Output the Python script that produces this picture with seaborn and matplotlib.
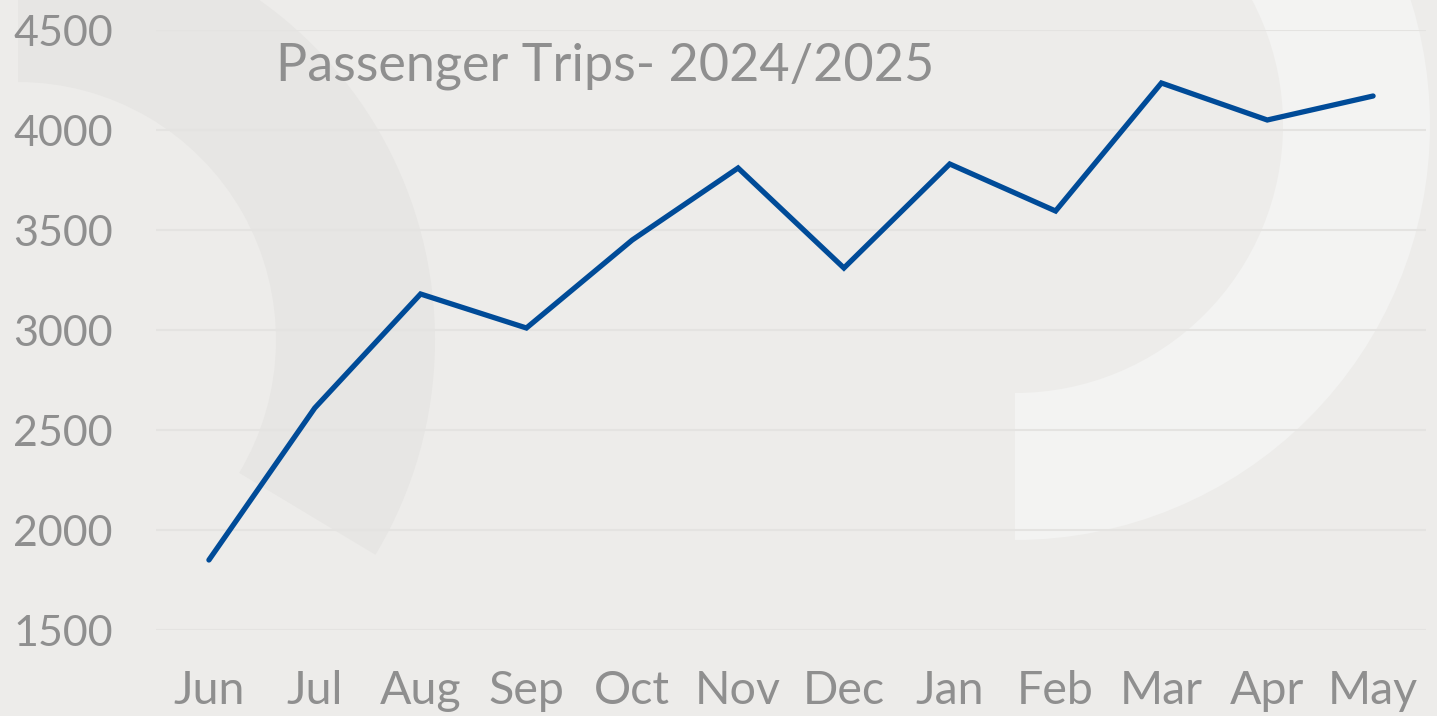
import matplotlib
matplotlib.use("Agg")
import matplotlib.pyplot as plt
from matplotlib.patches import Wedge
import seaborn as sns
import pandas as pd

months = ["Jun", "Jul", "Aug", "Sep", "Oct", "Nov", "Dec", "Jan", "Feb", "Mar", "Apr", "May"]
trips = [1850, 2610, 3180, 3010, 3450, 3810, 3310, 3830, 3595, 4235, 4050, 4170]
y_ticks = [1500, 2000, 2500, 3000, 3500, 4000, 4500]
title = "Passenger Trips- 2024/2025"

sns.set_theme(style="white")
plt.rcParams['font.family'] = ['Lato', 'DejaVu Sans']

W, H = 1437, 716
BG = "#EDECEA"
TXT = "#8F8F8F"
fig = plt.figure(figsize=(W / 100, H / 100), dpi=100, facecolor=BG)

# decorative background shapes
bg = fig.add_axes([0, 0, 1, 1], zorder=0)
bg.set_xlim(0, W)
bg.set_ylim(0, H)
bg.axis("off")
bg.add_patch(Wedge((18, H - 340), 417, -31, 90, width=159, facecolor="#E7E6E4", edgecolor="none"))
bg.add_patch(Wedge((1015, H - 125), 415, -90, 90, width=147, facecolor="#F3F3F2", edgecolor="none"))

ax = fig.add_axes([156 / W, (H - 630) / H, 1270 / W, 600 / H], zorder=1)
ax.set_facecolor("none")

df = pd.DataFrame({"month": months, "trips": trips})
sns.lineplot(data=df, x="month", y="trips", sort=False, ax=ax, color="#004B98",
             linewidth=3.8, solid_capstyle="round", solid_joinstyle="miter")

ax.set_xlim(-0.5, len(months) - 0.5)
ax.set_ylim(1500, 4500)
ax.set_yticks(y_ticks)
ax.set_yticklabels([str(v) for v in y_ticks])
ax.grid(axis="y", color="#E4E3E1", linewidth=1.5)
ax.grid(axis="x", visible=False)
ax.set_axisbelow(True)
for s in ax.spines.values():
    s.set_visible(False)
ax.set_xlabel("")
ax.set_ylabel("")
ax.tick_params(axis="y", length=0, pad=31, labelsize=31, labelcolor=TXT)
ax.tick_params(axis="x", length=0, pad=29, labelsize=33.5, labelcolor=TXT)

fig.text(276 / W, (H - 80) / H, title, fontsize=37.5, color=TXT,
         ha="left", va="baseline")

fig.savefig("out.png", dpi=100, facecolor=BG)
